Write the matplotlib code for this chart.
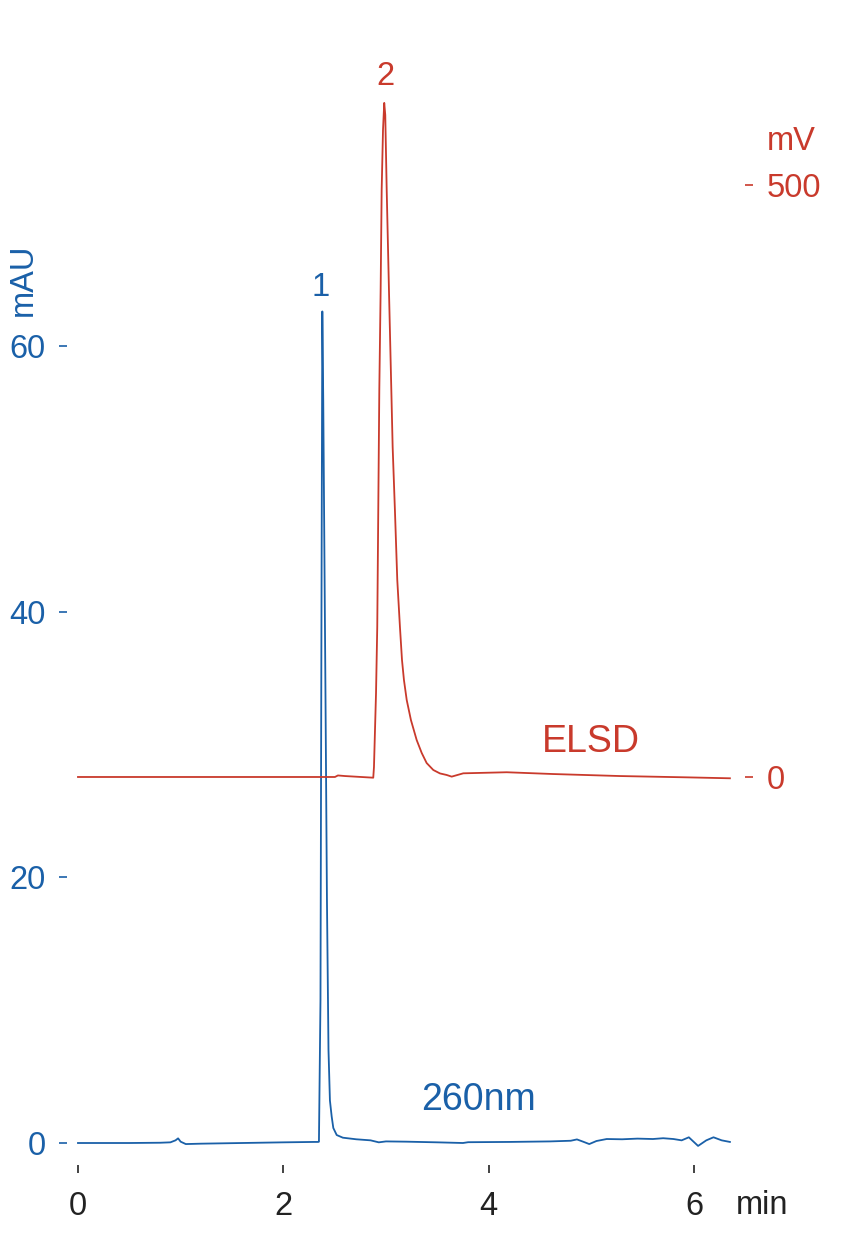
import matplotlib
matplotlib.use("Agg")
import matplotlib.pyplot as plt

plt.rcParams['font.family'] = ['Liberation Sans', 'DejaVu Sans']

BLUE = '#1a60a8'
RED = '#c93a2c'
GREY = '#222222'

# 260nm trace (min, mAU)
uv_t = [0.0, 0.5, 0.8, 0.9, 0.95, 0.975, 1.0, 1.05, 1.2, 1.6, 2.0, 2.3, 2.34,
        2.347, 2.362, 2.372, 2.380, 2.389, 2.411, 2.425, 2.440, 2.454, 2.471,
        2.487, 2.52, 2.58, 2.71, 2.85, 2.93, 3.0, 3.2, 3.5, 3.75, 3.8, 4.2,
        4.6, 4.8, 4.86, 4.92, 4.98, 5.05, 5.15, 5.3, 5.45, 5.6, 5.7, 5.8,
        5.88, 5.95, 6.04, 6.12, 6.19, 6.27, 6.35]
uv_v = [0.0, 0.0, 0.02, 0.05, 0.2, 0.35, 0.1, -0.08, -0.05, 0.0, 0.05, 0.08, 0.08,
        0.1, 10.8, 40.9, 62.6, 55.9, 33.4, 18.3, 7.0, 3.2, 2.0,
        1.13, 0.6, 0.4, 0.28, 0.2, 0.05, 0.12, 0.1, 0.05, 0.0, 0.06, 0.08,
        0.12, 0.17, 0.27, 0.1, -0.08, 0.15, 0.3, 0.28, 0.33, 0.3, 0.36, 0.3,
        0.2, 0.43, -0.22, 0.2, 0.43, 0.2, 0.08]

# ELSD trace (min, mV)
elsd_t = [0.0, 1.0, 2.0, 2.503, 2.532, 2.60, 2.876, 2.883, 2.903, 2.915, 2.919,
          2.935, 2.948, 2.958, 2.971, 2.983, 2.993, 3.007, 3.029, 3.052, 3.065,
          3.088, 3.110, 3.136, 3.156, 3.175, 3.202, 3.243, 3.299, 3.348, 3.396,
          3.461, 3.526, 3.591, 3.640, 3.753, 4.176, 4.627, 5.279, 5.929, 6.350]
elsd_v = [0.0, 0.0, 0.0, 0.0, 1.3, 0.8, -0.6, 8.4, 70.9, 126.7, 166.4,
          326.9, 411.3, 495.8, 546.5, 569.3, 559.1, 495.8, 411.3, 326.9, 278.7,
          223.0, 166.4, 126.7, 98.8, 81.9, 65.0, 48.1, 31.2, 20.3, 11.8,
          5.9, 3.0, 1.7, 0.3, 3.1, 4.0, 2.5, 0.8, -0.3, -1.1]

x_ticks = [0, 2, 4, 6]
uv_ticks = [0, 20, 40, 60]
elsd_ticks = [0, 500]

fig = plt.figure(figsize=(8.42, 12.5), dpi=100)
ax = fig.add_axes([67/842, 1-1165/1250, (745-67)/842, (1165-90)/1250])
ax2 = ax.twinx()

ax.plot(uv_t, uv_v, color=BLUE, lw=1.3)
ax2.plot(elsd_t, elsd_v, color=RED, lw=1.3)

ax.set_xlim(-0.107, 6.497)
ax.set_ylim(-1.656, 79.27)
ax2.set_ylim(-327.7, 580.2)

for a in (ax, ax2):
    for s in a.spines.values():
        s.set_visible(False)

ax.set_xticks(x_ticks)
ax.set_yticks(uv_ticks)
ax2.set_yticks(elsd_ticks)
ax.tick_params(axis='x', length=5.5, width=1.2, color=GREY, labelcolor=GREY,
               labelsize=23.5, pad=13)
ax.tick_params(axis='y', length=5.5, width=1.2, color=BLUE, labelcolor=BLUE,
               labelsize=23.5, pad=10)
ax2.tick_params(axis='y', length=5.5, width=1.2, color=RED, labelcolor=RED,
                labelsize=23.5, pad=10)

fig.text(23/842, 1-280/1250, 'mAU', color=BLUE, fontsize=23.5, rotation=90,
         ha='center', va='center')
fig.text(791/842, 1-142/1250, 'mV', color=RED, fontsize=23.5, ha='center', va='center')
fig.text(762/842, 1-1205/1250, 'min', color=GREY, fontsize=23.5, ha='center', va='center')

ax.text(2.36, 63.2, '1', color=BLUE, fontsize=23.5, ha='center', va='bottom')
ax2.text(2.99, 578.3, '2', color=RED, fontsize=23.5, ha='center', va='bottom',
         clip_on=False)
ax2.text(5.0, 14, 'ELSD', color=RED, fontsize=27, ha='center', va='bottom')
ax.text(3.9, 1.9, '260nm', color=BLUE, fontsize=27, ha='center', va='bottom')

fig.savefig('out.png', dpi=100)
